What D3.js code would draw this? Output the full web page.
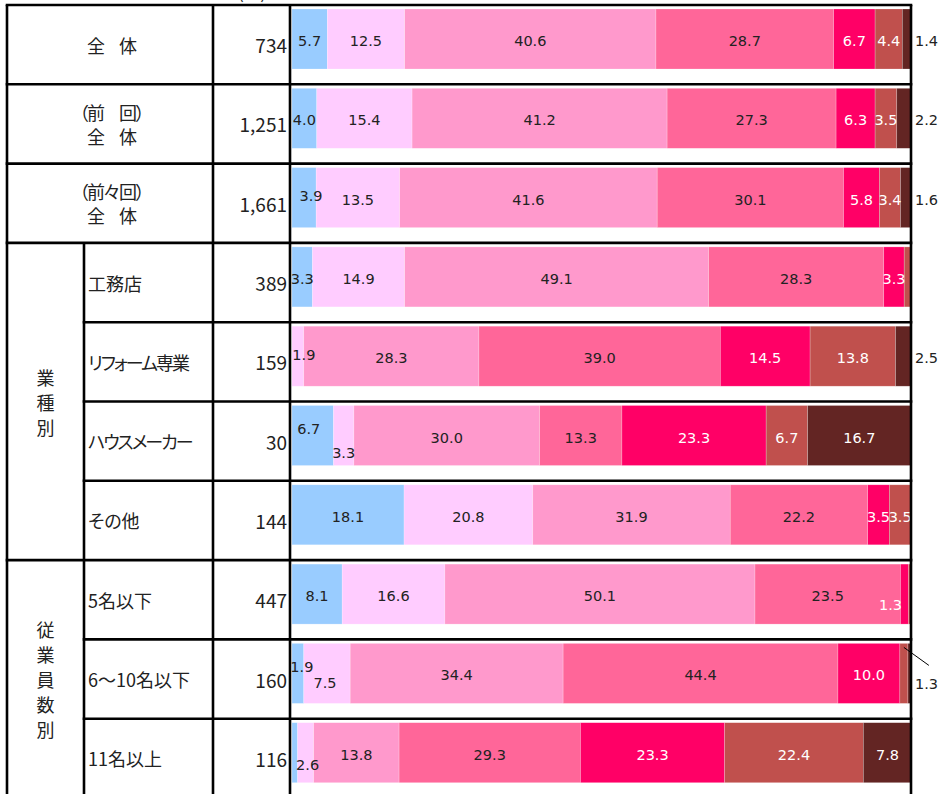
<!DOCTYPE html>
<html lang="ja">
<head>
<meta charset="utf-8">
<script src="https://cdn.jsdelivr.net/npm/d3@7"></script>
<style>
  html, body { margin: 0; padding: 0; background: #fff; }
  svg { display: block; }
  .cjk { font-family: "Noto Sans CJK JP", "Noto Sans", sans-serif; fill: #222; }
  .num { font-family: "Noto Sans CJK JP", "Noto Sans", sans-serif; fill: #222; }
  .val { font-family: "DejaVu Sans", Verdana, sans-serif; font-size: 14.5px; }
</style>
</head>
<body>
<svg id="chart" width="940" height="794"></svg>
<script>
// ---- data ---------------------------------------------------------------
const categoryLines = [
  ["全　体"],
  ["（前　回）", "全　体"],
  ["（前々回）", "全　体"],
  ["工務店"],
  ["リフォーム専業"],
  ["ハウスメーカー"],
  ["その他"],
  ["5名以下"],
  ["6～10名以下"],
  ["11名以上"]
];
const sampleSizes = [734, 1251, 1661, 389, 159, 30, 144, 447, 160, 116];
const groups = [
  { name: "業種別", first: 3, last: 6 },
  { name: "従業員数別", first: 7, last: 9 }
];

// percentage for each answer band, one array per band, in category order
const band1 = [5.7, 4.0, 3.9, 3.3, 0.0, 6.7, 18.1, 8.1, 1.9, 0.9];
const band2 = [12.5, 15.4, 13.5, 14.9, 1.9, 3.3, 20.8, 16.6, 7.5, 2.6];
const band3 = [40.6, 41.2, 41.6, 49.1, 28.3, 30.0, 31.9, 50.1, 34.4, 13.8];
const band4 = [28.7, 27.3, 30.1, 28.3, 39.0, 13.3, 22.2, 23.5, 44.4, 29.3];
const band5 = [6.7, 6.3, 5.8, 3.3, 14.5, 23.3, 3.5, 1.3, 10.0, 23.3];
const band6 = [4.4, 3.5, 3.4, 1.1, 13.8, 6.7, 3.5, 0.4, 1.3, 22.4];
const band7 = [1.4, 2.2, 1.6, 0.0, 2.5, 16.7, 0.0, 0.0, 0.5, 7.8];
const bands = [band1, band2, band3, band4, band5, band6, band7];

const colors = ["#99CCFF", "#FFCCFF", "#FF99CC", "#FF6699", "#FF0066", "#C0504D", "#632523"];
const lightText = [false, false, false, false, true, true, true];

// ---- layout -------------------------------------------------------------
const svg = d3.select("#chart");
const col = { left: 7, group: 84, n: 213, bar: 290, right: 911 };
const y = d3.scaleBand().domain(d3.range(categoryLines.length)).range([5, 798]);
const x = d3.scaleLinear().domain([0, 100]).range([292, col.right]);
const barTop = 4, barH = 60;
const outerLabelEnd = 938;

// label placement tweaks for crowded segments: key "row-band"
const tweaks = {
  "2-0": { dx: 7, dy: -4 },
  "4-1": { dx: 6, dy: -3 },
  "5-0": { dx: -4, dy: -9 },
  "5-1": { dx: 0, dy: 15 },
  "7-4": { dx: -14, dy: 9 },
  "8-0": { dx: 4, dy: -8 },
  "8-1": { dx: -2, dy: 8 },
  "9-1": { dx: 2, dy: 10 }
};
const outside = new Set(["0-6", "1-6", "2-6", "4-6"]);
const callout = new Set(["8-5"]);
const minLabel = 1.2;

// ---- stacked bars -------------------------------------------------------
const rows = categoryLines.map((_, i) => {
  let acc = 0;
  return bands.map((b, k) => {
    const seg = { row: i, band: k, v: b[i], x0: acc, x1: acc + b[i] };
    acc += b[i];
    return seg;
  });
});

const barG = svg.append("g");
rows.forEach(segs => {
  barG.selectAll(null)
    .data(segs.filter(s => s.v > 0))
    .enter().append("rect")
    .attr("x", d => x(d.x0))
    .attr("y", d => y(d.row) + barTop)
    .attr("width", d => Math.max(0, x(d.x1) - x(d.x0)))
    .attr("height", barH)
    .attr("fill", d => colors[d.band])
    .attr("stroke", "#fff")
    .attr("stroke-opacity", 0.35)
    .attr("stroke-width", 0.6);
});

// ---- value labels -------------------------------------------------------
const labG = svg.append("g");
rows.forEach(segs => {
  segs.forEach(s => {
    if (s.v < minLabel) return;
    const key = s.row + "-" + s.band;
    const cy = y(s.row) + barTop + barH / 2 + 2;
    const txt = s.v.toFixed(1);
    if (outside.has(key)) {
      labG.append("text").attr("class", "val")
        .attr("x", outerLabelEnd).attr("y", cy)
        .attr("text-anchor", "end").attr("dominant-baseline", "central")
        .attr("fill", "#222").text(txt);
      return;
    }
    if (callout.has(key)) {
      const sx = (x(s.x0) + x(s.x1)) / 2;
      const sy = y(s.row) + barTop + 4;
      labG.append("line")
        .attr("x1", sx).attr("y1", sy).attr("x2", sx + 25).attr("y2", sy + 18)
        .attr("stroke", "#000").attr("stroke-width", 1);
      labG.append("text").attr("class", "val")
        .attr("x", outerLabelEnd).attr("y", sy + 37)
        .attr("text-anchor", "end").attr("dominant-baseline", "central")
        .attr("fill", "#222").text(txt);
      return;
    }
    const t = tweaks[key] || { dx: 0, dy: 0 };
    labG.append("text").attr("class", "val")
      .attr("x", (x(s.x0) + x(s.x1)) / 2 + t.dx)
      .attr("y", cy + t.dy)
      .attr("text-anchor", "middle").attr("dominant-baseline", "central")
      .attr("fill", lightText[s.band] ? "#fff" : "#222")
      .text(txt);
  });
});

// ---- table text ---------------------------------------------------------
const rowMid = i => y(i) + y.bandwidth() / 2;
const txtG = svg.append("g");
const hasKana = s => /[\u30A0-\u30FF]/.test(s);

// unit caption above the n column
txtG.append("text").attr("class", "num")
  .attr("x", 252).attr("y", -1).attr("text-anchor", "middle")
  .style("font-size", "18px").text("(%)");

categoryLines.forEach((lines, i) => {
  const inGroup = groups.some(g => i >= g.first && i <= g.last);
  if (inGroup) {
    txtG.append("text").attr("class", "cjk")
      .attr("x", col.group + 4).attr("y", rowMid(i))
      .attr("dominant-baseline", "central")
      .style("font-size", "18px")
      .style("letter-spacing", hasKana(lines[0]) ? "-2px" : "0px")
      .style("font-feature-settings", "'palt' 1")
      .text(lines[0]);
  } else {
    const cx = (col.left + col.n) / 2;
    const gap = 24;
    lines.forEach((ln, j) => {
      txtG.append("text").attr("class", "cjk")
        .attr("x", cx + 1)
        .attr("y", rowMid(i) + (j - (lines.length - 1) / 2) * gap)
        .attr("text-anchor", "middle").attr("dominant-baseline", "central")
        .style("font-size", "18px")
        .style("letter-spacing", "-2px")
        .text(ln);
    });
  }
  txtG.append("text").attr("class", "num")
    .attr("x", col.bar - 3).attr("y", rowMid(i))
    .attr("text-anchor", "end").attr("dominant-baseline", "central")
    .style("font-size", "19px")
    .text(d3.format(",")(sampleSizes[i]));
});

groups.forEach(g => {
  const chars = Array.from(g.name);
  const mid = (y(g.first) + y(g.last) + y.bandwidth()) / 2;
  const step = 25;
  chars.forEach((c, j) => {
    txtG.append("text").attr("class", "cjk")
      .attr("x", (col.left + col.group) / 2)
      .attr("y", mid + (j - (chars.length - 1) / 2) * step)
      .attr("text-anchor", "middle").attr("dominant-baseline", "central")
      .style("font-size", "18px")
      .text(c);
  });
});

// ---- grid lines ---------------------------------------------------------
const gridG = svg.append("g").attr("stroke", "#000").attr("stroke-width", 2.6);
const n = categoryLines.length;
for (let i = 0; i <= n; i++) {
  const yy = i < n ? y(i) : y(n - 1) + y.bandwidth();
  const startsGroup = i === 0 || groups.some(g => g.first === i) || i <= 3 || i === n;
  const x1 = startsGroup ? col.left : col.group;
  gridG.append("line").attr("x1", x1 - 1.3).attr("x2", col.right + 1.3)
    .attr("y1", yy).attr("y2", yy);
}
const bottom = y(n - 1) + y.bandwidth();
[col.left, col.n, col.bar, col.right].forEach(xx => {
  gridG.append("line").attr("x1", xx).attr("x2", xx).attr("y1", y(0)).attr("y2", bottom);
});
gridG.append("line").attr("x1", col.group).attr("x2", col.group)
  .attr("y1", y(groups[0].first)).attr("y2", bottom);
</script>
</body>
</html>
